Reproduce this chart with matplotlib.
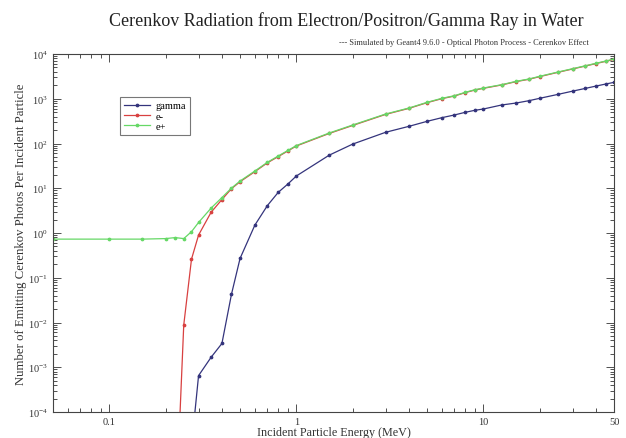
import numpy as np
import matplotlib
matplotlib.use("Agg")
import matplotlib.pyplot as plt
from matplotlib.ticker import FixedLocator, LogLocator, NullFormatter

# Incident energy (MeV) and photons per incident particle
energy = [0.05, 0.1, 0.15, 0.2, 0.225, 0.25, 0.275, 0.3, 0.35, 0.4, 0.45, 0.5,
          0.6, 0.7, 0.8, 0.9, 1.0, 1.5, 2, 3, 4, 5, 6, 7, 8, 9, 10,
          12.5, 15, 17.5, 20, 25, 30, 35, 40, 45, 50]

gamma = [None, None, None, None, None, None, 1.7e-5, 6.5e-4, 1.67e-3, 3.4e-3,
         0.043, 0.27, 1.5, 4.1, 8.1, 12.4, 18.8, 55, 97, 178, 242, 313, 378,
         434, 498, 552, 590, 725, 804, 904, 1023, 1250, 1480, 1700, 1920,
         2130, 2330]

e_minus = [None, None, None, 1e-9, 2.6e-7, 8.8e-3, 0.26, 0.90, 2.9, 5.6, 9.8,
           14.0, 23.5, 37, 51, 68, 88, 168, 253, 447, 610, 818, 1005, 1150,
           1370, 1565, 1710, 2030, 2420, 2720, 3120, 3890, 4630, 5370, 6110,
           6850, 7600]

e_plus = [0.73, 0.73, 0.73, 0.75, 0.79, 0.75, 1.07, 1.72, 3.6, 6.2, 10.1,
          14.5, 24.3, 38, 52.6, 69.8, 90, 172, 259, 456, 621, 833, 1023, 1170,
          1393, 1592, 1738, 2060, 2455, 2763, 3175, 3950, 4700, 5450, 6200,
          6950, 7730]

x_ticks = [0.1, 1, 10, 50]
x_ticklabels = ["0.1", "1", "10", "50"]

plt.rcParams["font.family"] = ["Liberation Serif", "DejaVu Serif"]
plt.rcParams["mathtext.fontset"] = "stix"

fig = plt.figure(figsize=(6.26, 4.39), dpi=100)
ax = fig.add_axes([0.0847, 0.0592, 0.8963, 0.8155])


def series(vals):
    e = [x for x, v in zip(energy, vals) if v is not None]
    v = [v for v in vals if v is not None]
    return e, v


styles = [
    ("gamma", gamma, "#34347c"),
    ("e-", e_minus, "#d84040"),
    ("e+", e_plus, "#66d866"),
]
for name, vals, col in styles:
    e, v = series(vals)
    ax.plot(e, v, color=col, lw=0.9, marker="o", ms=1.7, mfc=col, mec=col,
            label=name)

ax.set_xscale("log")
ax.set_yscale("log")
ax.set_xlim(0.05, 50)
ax.set_ylim(1e-4, 1e4)

ax.xaxis.set_major_locator(FixedLocator(x_ticks))
ax.set_xticklabels(x_ticklabels)
ax.xaxis.set_minor_locator(LogLocator(base=10, subs=np.arange(2, 10), numticks=20))
ax.xaxis.set_minor_formatter(NullFormatter())
ax.yaxis.set_major_locator(LogLocator(base=10, numticks=20))
ax.yaxis.set_minor_locator(LogLocator(base=10, subs=np.arange(2, 10), numticks=20))
ax.yaxis.set_minor_formatter(NullFormatter())

ax.tick_params(which="both", direction="in", top=True, right=True,
               colors="#333333", labelsize=7.5, width=0.6)
ax.tick_params(which="major", length=6)
ax.tick_params(which="minor", length=3)
for sp in ax.spines.values():
    sp.set_color("#444444")
    sp.set_linewidth(0.8)

ax.set_xlabel("Incident Particle Energy (MeV)", fontsize=8.7, color="#333333",
              labelpad=0)
ax.set_ylabel("Number of Emitting Cerenkov Photos Per Incident Particle",
              fontsize=9.2, color="#333333", labelpad=1)

fig.text(0.553, 0.952, "Cerenkov Radiation from Electron/Positron/Gamma Ray in Water",
         ha="center", va="center", fontsize=13, color="#222222")
fig.text(0.94, 0.903,
         "--- Simulated by Geant4 9.6.0 - Optical Photon Process - Cerenkov Effect",
         ha="right", va="center", fontsize=6, color="#333333")

leg = ax.legend(loc="upper left", bbox_to_anchor=(0.11, 0.895), fontsize=7.5,
                frameon=True, fancybox=False, handlelength=2.5,
                borderpad=0.4, labelspacing=0.1, handletextpad=0.5)
leg.get_frame().set_edgecolor("#555555")
leg.get_frame().set_linewidth(0.8)

fig.savefig("out.png", dpi=100)
